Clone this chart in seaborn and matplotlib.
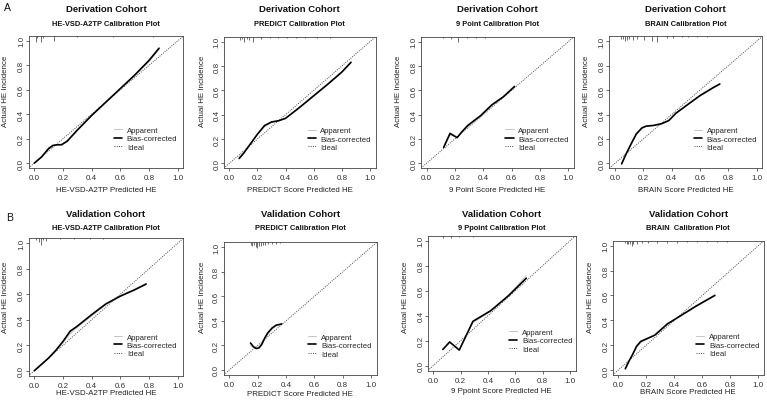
import numpy as np
import matplotlib
matplotlib.use("Agg")
import matplotlib.pyplot as plt
from matplotlib.lines import Line2D
import seaborn as sns

sns.set_theme(style="white")
plt.rcParams['font.family'] = ['Liberation Sans', 'DejaVu Sans']

# ---- data ----
titles = ["Derivation Cohort"] * 4 + ["Validation Cohort"] * 4
subtitles = ["HE-VSD-A2TP Calibration Plot", "PREDICT Calibration Plot",
             "9 Point Calibration Plot", "BRAIN Calibration Plot",
             "HE-VSD-A2TP Calibration Plot", "PREDICT Calibration Plot",
             "9 Ppoint Calibration Plot", "BRAIN  Calibration Plot"]
xlabels = ["HE-VSD-A2TP Predicted HE", "PREDICT Score Predicted HE",
           "9 Point Score Predicted HE", "BRAIN Score Predicted HE",
           "HE-VSD-A2TP Predicted HE", "PREDICT Score Predicted HE",
           "9 Ppoint Score Predicted HE", "BRAIN Score Predicted HE"]
ylabel = "Actual HE Incidence"
legend_labels = ["Apparent", "Bias-corrected", "Ideal"]
tick_vals = [0.0, 0.2, 0.4, 0.6, 0.8, 1.0]

# derivation, HE-VSD-A2TP
d1_x = [0.0, 0.05, 0.1, 0.13, 0.16, 0.19, 0.23, 0.3, 0.4, 0.5, 0.6, 0.7, 0.8, 0.87]
d1_bc = [0.0, 0.05, 0.12, 0.145, 0.15, 0.15, 0.18, 0.27, 0.39, 0.5, 0.61, 0.72, 0.84, 0.94]
d1_app = [0.0, 0.05, 0.115, 0.14, 0.15, 0.155, 0.185, 0.275, 0.39, 0.5, 0.605, 0.715, 0.83, 0.93]
d1_rug_x = [0.01, 0.02, 0.045, 0.06, 0.14, 0.3, 0.55, 0.83]
d1_rug_h = [0.045, 0.02, 0.045, 0.02, 0.04, 0.008, 0.008, 0.008]

# derivation, PREDICT
d2_x = [0.07, 0.1, 0.15, 0.2, 0.25, 0.3, 0.35, 0.4, 0.5, 0.6, 0.7, 0.8, 0.865]
d2_bc = [0.04, 0.08, 0.16, 0.24, 0.31, 0.34, 0.35, 0.37, 0.46, 0.555, 0.65, 0.75, 0.83]
d2_app = [0.05, 0.09, 0.16, 0.235, 0.3, 0.335, 0.35, 0.37, 0.46, 0.56, 0.655, 0.755, 0.835]
d2_rug_x = [0.076, 0.088, 0.107, 0.123, 0.142, 0.171, 0.223, 0.289, 0.348, 0.408, 0.474, 0.538, 0.62, 0.716]
d2_rug_h = [0.03, 0.02, 0.04, 0.02, 0.03, 0.045, 0.015, 0.012, 0.01, 0.01, 0.008, 0.008, 0.006, 0.006]

# derivation, 9 Point
d3_x = [0.12, 0.165, 0.215, 0.25, 0.29, 0.34, 0.38, 0.46, 0.54, 0.62]
d3_bc = [0.13, 0.245, 0.21, 0.26, 0.31, 0.355, 0.39, 0.48, 0.545, 0.63]
d3_app = [0.13, 0.23, 0.215, 0.255, 0.3, 0.345, 0.38, 0.47, 0.545, 0.64]
d3_rug_x = [0.113, 0.172, 0.219, 0.287, 0.35, 0.41]
d3_rug_h = [0.01, 0.015, 0.04, 0.01, 0.006, 0.006]

# derivation, BRAIN
d4_x = [0.047, 0.08, 0.11, 0.15, 0.19, 0.22, 0.27, 0.33, 0.38, 0.43, 0.5, 0.6, 0.7, 0.74]
d4_bc = [-0.005, 0.08, 0.15, 0.24, 0.29, 0.305, 0.31, 0.325, 0.35, 0.41, 0.47, 0.555, 0.625, 0.65]
d4_app = [0.0, 0.08, 0.145, 0.235, 0.285, 0.3, 0.31, 0.325, 0.355, 0.41, 0.47, 0.55, 0.62, 0.645]
d4_rug_x = [0.04, 0.054, 0.071, 0.087, 0.101, 0.125, 0.153, 0.205, 0.259, 0.299, 0.365, 0.412, 0.471, 0.518, 0.576, 0.647]
d4_rug_h = [0.025, 0.02, 0.04, 0.03, 0.02, 0.03, 0.02, 0.03, 0.035, 0.045, 0.015, 0.01, 0.008, 0.008, 0.006, 0.006]

# validation, HE-VSD-A2TP
v1_x = [0.0, 0.05, 0.1, 0.15, 0.2, 0.25, 0.3, 0.4, 0.5, 0.6, 0.7, 0.78]
v1_bc = [0.0, 0.05, 0.1, 0.16, 0.23, 0.31, 0.35, 0.44, 0.525, 0.585, 0.635, 0.68]
v1_app = [0.0, 0.05, 0.1, 0.155, 0.22, 0.29, 0.34, 0.43, 0.52, 0.59, 0.64, 0.685]
v1_rug_x = [0.012, 0.035, 0.044, 0.063, 0.081, 0.18, 0.28, 0.39, 0.48]
v1_rug_h = [0.015, 0.03, 0.05, 0.015, 0.02, 0.008, 0.008, 0.006, 0.006]

# validation, PREDICT
v2_x = [0.15, 0.17, 0.19, 0.21, 0.23, 0.25, 0.27, 0.3, 0.33, 0.37]
v2_bc = [0.22, 0.19, 0.175, 0.18, 0.21, 0.26, 0.3, 0.34, 0.365, 0.375]
v2_app = [0.2, 0.185, 0.18, 0.19, 0.22, 0.25, 0.285, 0.33, 0.36, 0.38]
v2_rug_x = [0.15, 0.162, 0.174, 0.186, 0.198, 0.209, 0.221, 0.235, 0.252, 0.275, 0.299, 0.33, 0.358]
v2_rug_h = [0.02, 0.03, 0.025, 0.035, 0.045, 0.03, 0.03, 0.02, 0.02, 0.015, 0.01, 0.01, 0.008]

# validation, 9 Ppoint
v3_x = [0.07, 0.12, 0.19, 0.29, 0.42, 0.55, 0.68]
v3_bc = [0.13, 0.19, 0.125, 0.355, 0.44, 0.56, 0.7]
v3_app = [0.13, 0.185, 0.13, 0.345, 0.435, 0.565, 0.72]
v3_rug_x = [0.073, 0.127, 0.19, 0.29]
v3_rug_h = [0.015, 0.02, 0.01, 0.008]

# validation, BRAIN
v4_x = [0.05, 0.08, 0.1, 0.13, 0.16, 0.2, 0.26, 0.3, 0.35, 0.45, 0.55, 0.69]
v4_bc = [0.01, 0.08, 0.12, 0.19, 0.23, 0.25, 0.28, 0.32, 0.37, 0.44, 0.51, 0.6]
v4_app = [0.02, 0.08, 0.12, 0.18, 0.22, 0.245, 0.28, 0.315, 0.37, 0.44, 0.515, 0.605]
v4_rug_x = [0.048, 0.06, 0.071, 0.083, 0.095, 0.107, 0.131, 0.167, 0.214, 0.274, 0.345, 0.417, 0.488, 0.56, 0.631, 0.702, 0.774, 0.869]
v4_rug_h = [0.02, 0.03, 0.025, 0.03, 0.04, 0.025, 0.03, 0.02, 0.02, 0.02, 0.02, 0.015, 0.01, 0.01, 0.01, 0.008, 0.008, 0.006]

curves = [
    (d1_x, d1_bc, d1_app, d1_rug_x, d1_rug_h),
    (d2_x, d2_bc, d2_app, d2_rug_x, d2_rug_h),
    (d3_x, d3_bc, d3_app, d3_rug_x, d3_rug_h),
    (d4_x, d4_bc, d4_app, d4_rug_x, d4_rug_h),
    (v1_x, v1_bc, v1_app, v1_rug_x, v1_rug_h),
    (v2_x, v2_bc, v2_app, v2_rug_x, v2_rug_h),
    (v3_x, v3_bc, v3_app, v3_rug_x, v3_rug_h),
    (v4_x, v4_bc, v4_app, v4_rug_x, v4_rug_h),
]

# ---- layout in pixels: box left, right, top, bottom; ylabel x; xlabel y ----
W, H = 767, 402
boxes = [
    (28.6, 183.4, 37.0, 169.0, 6, 191),
    (223.7, 375.6, 37.8, 169.2, 202, 191),
    (421.0, 574.0, 37.8, 169.0, 399, 191),
    (609.3, 762.3, 37.4, 169.2, 586, 191),
    (28.6, 183.4, 239.2, 376.8, 6, 394),
    (223.6, 376.7, 243.4, 375.9, 202, 395),
    (427.8, 575.5, 236.7, 371.7, 405, 392),
    (612.7, 763.9, 241.7, 376.0, 590, 393),
]
row_title_y = [(10, 25)] * 4 + [(215, 229)] * 4

app_color = '#c4c4c4'
ideal_color = '#4a4a4a'
ideal_ls = (0, (1, 1.3))

fig = plt.figure(figsize=(7.67, 4.02), dpi=100)

for i, (bx, (cx, cbc, capp, rx, rh)) in enumerate(zip(boxes, curves)):
    x0, x1, y0, y1, ylx, xly = bx
    ax = fig.add_axes([x0 / W, 1 - y1 / H, (x1 - x0) / W, (y1 - y0) / H])
    ax.set_xlim(-0.04, 1.04)
    ax.set_ylim(-0.04, 1.04)

    ax.axline((0, 0), (1, 1), color=ideal_color, lw=0.7, ls=ideal_ls)
    sns.lineplot(x=cx, y=capp, ax=ax, color=app_color, lw=0.7, sort=False)
    sns.lineplot(x=cx, y=cbc, ax=ax, color='black', lw=1.2, sort=False)
    ax.vlines(rx, 1.04 - np.array(rh), 1.04, color='#555555', lw=0.6)

    ax.set_xticks(tick_vals)
    ax.set_yticks(tick_vals)
    ax.set_xticklabels([f"{v:.1f}" for v in tick_vals])
    ax.set_yticklabels([f"{v:.1f}" for v in tick_vals], rotation=90,
                       va='center', ha='center')
    ax.tick_params(bottom=True, left=True, direction='out', length=2, width=0.5,
                   colors='#333333', labelsize=5.8)
    ax.tick_params(axis='x', pad=2.2)
    ax.tick_params(axis='y', pad=3.0)
    for s in ax.spines.values():
        s.set_linewidth(0.6)
        s.set_color('#444444')

    hgt = y1 - y0
    wid = x1 - x0
    ax.set_xlabel(xlabels[i], fontsize=5.7, color='#222222', va='center')
    ax.xaxis.set_label_coords(0.5, (y1 - xly) / hgt)
    ax.set_ylabel(ylabel, fontsize=5.7, color='#222222', va='center')
    ylab_y = 91 if i < 4 else 297
    ax.yaxis.set_label_coords((ylx - x0) / wid, (y1 - ylab_y) / hgt)

    handles = [Line2D([], [], color=app_color, lw=0.7),
               Line2D([], [], color='black', lw=1.2),
               Line2D([], [], color=ideal_color, lw=0.7, ls=ideal_ls)]
    ax.legend(handles, legend_labels, loc='center left', bbox_to_anchor=(0.556, 0.2),
              bbox_transform=ax.transData, frameon=False, fontsize=5.6,
              handlelength=1.05, handletextpad=0.6, labelspacing=0.12,
              borderpad=0, borderaxespad=0)

    cxp = (x0 + x1) / 2
    ty, sy = row_title_y[i]
    fig.text(cxp / W, 1 - ty / H, titles[i], ha='center', va='center',
             fontsize=6.8, fontweight='bold', color='#111111')
    fig.text(cxp / W, 1 - sy / H, subtitles[i], ha='center', va='center',
             fontsize=5.4, fontweight='bold', color='#111111')

fig.text(7 / W, 1 - 8 / H, "A", ha='center', va='center', fontsize=7.5, color='#111111')
fig.text(10 / W, 1 - 218 / H, "B", ha='center', va='center', fontsize=7.5, color='#111111')

fig.savefig("out.png", dpi=100, facecolor='white')
